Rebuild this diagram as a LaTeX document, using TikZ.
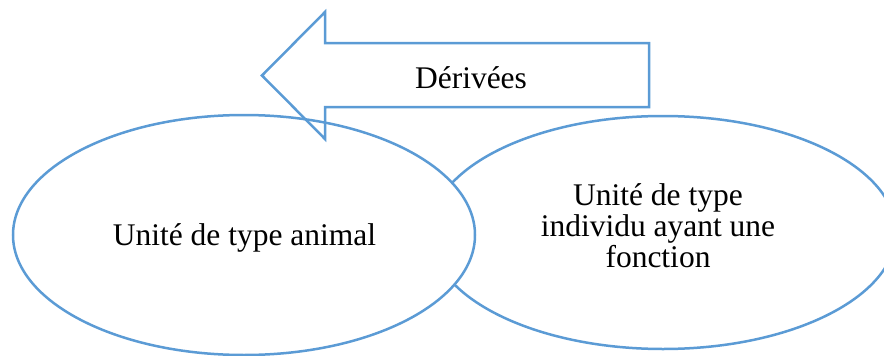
\documentclass[tikz,border=0pt]{standalone}
\usepackage{fontspec}
\setmainfont{Liberation Serif}
\usetikzlibrary{shapes.geometric}
\definecolor{officeblue}{HTML}{5B9BD5}
\tikzset{
  outline/.style={draw=officeblue, line width=2.5pt},
  bubble/.style={outline, ellipse, fill=white, inner sep=0pt},
  label/.style={font=\fontsize{31.5}{31}\selectfont, text=black, inner sep=0pt, align=center}
}
\begin{document}
\begin{tikzpicture}[x=1pt,y=-1pt]
\useasboundingbox (0,0) rectangle (884,356);
% right ellipse (behind)
\node[bubble, minimum width=466pt, minimum height=233pt] (indiv) at (663,232.5) {};
% left ellipse (front)
\node[bubble, minimum width=462pt, minimum height=240pt] (animal) at (244,235) {};
% arrow
\draw[outline, line join=miter] (262,75.5) -- (325,12) -- (325,43) -- (649,43) -- (649,107) -- (325,107) -- (325,139) -- cycle;
\node[label, anchor=base] (deriv) at (471,88) {Dérivées};
\node[label, anchor=base] (animaltxt) at (244.5,245) {Unité de type animal};
\node[label, anchor=center] (indivtxt) at (658,225.5) {Unité de type\\individu ayant une\\fonction};
\end{tikzpicture}
\end{document}
